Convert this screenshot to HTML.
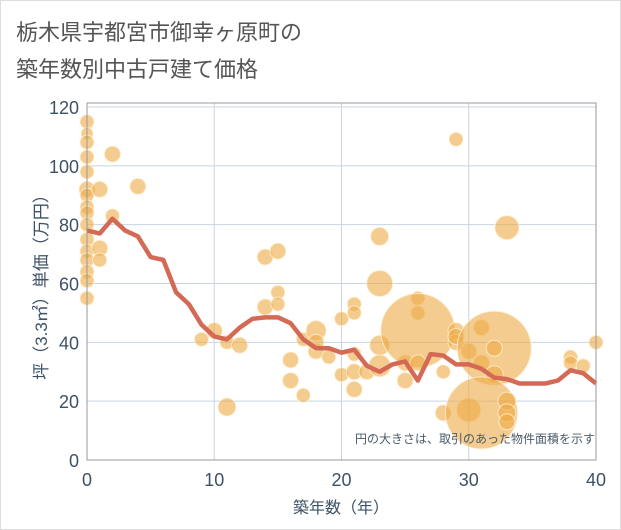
<!DOCTYPE html>
<html><head><meta charset="utf-8"><style>
body{margin:0;background:#fff;font-family:"Liberation Sans","Noto Sans CJK JP",sans-serif;}
#wrap{position:relative;width:621px;height:530px;overflow:hidden;}
.frame{position:absolute;left:0;top:0;width:619px;height:528px;border:1px solid #ddd;}
</style></head><body>
<div id="wrap">
<div class="frame"></div>
<svg id="chart" width="621" height="530" style="position:absolute;left:0;top:0">
<text x="16" y="40" font-size="22" fill="#555" font-family="Liberation Sans,Noto Sans CJK JP,sans-serif">栃木県宇都宮市御幸ヶ原町の</text>
<text x="16" y="77" font-size="22" fill="#555" font-family="Liberation Sans,Noto Sans CJK JP,sans-serif">築年数別中古戸建て価格</text>
<g id="grid"></g><g id="bubbles"></g><g id="line"></g><g id="axes"></g>
<text x="595" y="443" font-size="12" fill="#4a5a6a" text-anchor="end" font-family="Liberation Sans,Noto Sans CJK JP,sans-serif">円の大きさは、取引のあった物件面積を示す</text>
<text x="341" y="513" font-size="16" fill="#3d5266" text-anchor="middle" font-family="Liberation Sans,Noto Sans CJK JP,sans-serif">築年数（年）</text>
<text transform="translate(47,283) rotate(-90)" font-size="17" fill="#3d5266" text-anchor="middle" font-family="Liberation Sans,Noto Sans CJK JP,sans-serif">坪（3.3㎡）単価（万円）</text>
</svg>
</div>
<script>
const xTicks=[0,10,20,30,40];
const yTicks=[0,20,40,60,80,100,120];
const lineYears=[0,1,2,3,4,5,6,7,8,9,10,11,12,13,14,15,16,17,18,19,20,21,22,23,24,25,26,27,28,29,30,31,32,33,34,35,36,37,38,39,40];
const linePrices=[78,77,82,78,76,69,68,57,53,46,42,41,45,48,48.5,48.5,46.5,41,38,38,36.5,37.5,32,30,32.5,33.5,27,36,35.5,32.5,32.5,31,28,27.5,26,26,26,27,30.5,29.5,26];
const bubbleX=[0,0,0,0,0,0,0,0,0,0,0,0,0,0,0,0,1,1,1,2,2,4,9,10,11,12,11,14,14,15,15,15,16,16,17,17,18,18,18,19,20,20,21,21,21,21,21,22,23,23,23,23,25,25,26,26,26,26,28,28,29,29,29,29,30,30,31,31,32,32,32,31,33,33,33,33,38,38,39,40];
const bubbleY=[115,111,108,103,98,92,90,86,84,80,75,71,68,64,61,55,92,72,68,104,83,93,41,44,40,39,18,69,52,71,57,53,34,27,41,22,44,37,40,35,48,29,53,50,36,30,24,30,76,60,39,32,33,27,55,50,44,33,30,16,109,44,40,42,37,17,45,33,38,38,29,16,79,20,16,13,35,33,32,40];
const bubbleR=[7,6,7,7,7,8,7,7,7,7,7,7,7,7,7,7,8,8,7,8,7,8,7,8,7,8,9,8,8,8,7,7,8,8,7,7,10,8,8,7,7,7,7,7,7,8,8,8,9,13,10,11,8,8,7,7,37,8,7,8,7,8,8,8,8,12,8,8,37,8,9,36,12,9,9,8,7,7,7,7];
const X0=87,X1=596,Y0=460,Y1=107;
const sx=v=>X0+(X1-X0)*v/40, sy=v=>Y0-(Y0-Y1)*v/120;
const NS='http://www.w3.org/2000/svg';
function mk(tag,attrs,parent){const e=document.createElementNS(NS,tag);for(const k in attrs)e.setAttribute(k,attrs[k]);parent.appendChild(e);return e;}
const grid=document.getElementById('grid'),axes=document.getElementById('axes'),bub=document.getElementById('bubbles'),ln=document.getElementById('line');
yTicks.forEach(t=>{
  const g=mk('line',{x1:X0,x2:X1,y1:sy(t),y2:sy(t),stroke:'#c8d4e4','stroke-width':1},grid);
  
  
  const tx=mk('text',{x:X0-8,y:sy(t)+7,'font-size':18,fill:'#3d5266','text-anchor':'end','font-family':'Liberation Sans,sans-serif'},axes);
  tx.textContent=t;
  
  
});
xTicks.forEach(t=>{
  const g=mk('line',{x1:sx(t),x2:sx(t),y1:103,y2:Y0,stroke:'#c8d4e4','stroke-width':1},grid);
  
  
  const tx=mk('text',{x:sx(t),y:486,'font-size':18,fill:'#3d5266','text-anchor':'middle','font-family':'Liberation Sans,sans-serif'},axes);
  tx.textContent=t;
  
  
});
const border=mk('rect',{x:X0,y:103,width:X1-X0,height:Y0-103,fill:'none',stroke:'#999','stroke-width':1},axes);


bubbleX.forEach((x,i)=>{
  const c=mk('circle',{cx:sx(x),cy:sy(bubbleY[i]),r:bubbleR[i],fill:'rgba(236,170,70,0.6)',stroke:'rgba(255,240,210,0.8)','stroke-width':1},bub);
  
  
});
const p=mk('polyline',{points:lineYears.map((x,i)=>sx(x)+','+sy(linePrices[i])).join(' '),fill:'none',stroke:'#d46a55','stroke-width':4.5,'stroke-linejoin':'round'},ln);


</script>
</body></html>
